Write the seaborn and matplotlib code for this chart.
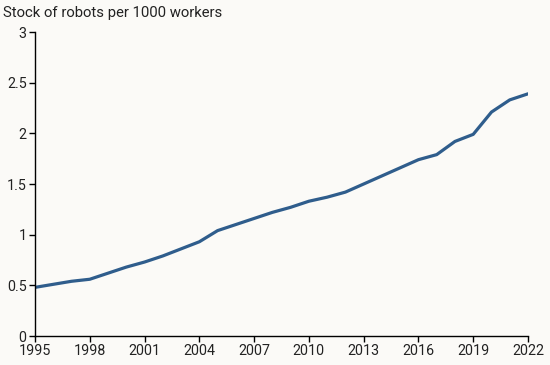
import matplotlib
matplotlib.use("Agg")
import matplotlib.pyplot as plt
import seaborn as sns
import pandas as pd

years = list(range(1995, 2023))
robots = [0.48, 0.51, 0.54, 0.56, 0.62, 0.68, 0.73, 0.79, 0.86, 0.93,
          1.04, 1.10, 1.16, 1.22, 1.27, 1.33, 1.37, 1.42, 1.50, 1.58,
          1.66, 1.74, 1.79, 1.92, 1.99, 2.21, 2.33, 2.39]
x_ticks = list(range(1995, 2023, 3))
y_ticks = [0, 0.5, 1, 1.5, 2, 2.5, 3]
y_tick_labels = ["0", "0.5", "1", "1.5", "2", "2.5", "3"]
title = "Stock of robots per 1000 workers"

df = pd.DataFrame({"year": years, "robots": robots})

sns.set_style("ticks")
plt.rcParams["font.family"] = ["Roboto", "DejaVu Sans"]
bg = "#FBFAF7"
fig = plt.figure(figsize=(5.5, 3.65), dpi=100, facecolor=bg)
ax = fig.add_axes([35/550, (365-336)/365, (528-35)/550, (336-32)/365])
ax.set_facecolor(bg)

sns.lineplot(data=df, x="year", y="robots", ax=ax, color="#2F5D8C", linewidth=2.3)

ax.set_xlim(1995, 2022)
ax.set_ylim(0, 3)
ax.set_xticks(x_ticks)
ax.set_xticklabels([str(t) for t in x_ticks])
ax.set_yticks(y_ticks)
ax.set_yticklabels(y_tick_labels)
ax.set_xlabel("")
ax.set_ylabel("")
for s in ["top", "right"]:
    ax.spines[s].set_visible(False)
for s in ["left", "bottom"]:
    ax.spines[s].set_color("black")
    ax.spines[s].set_linewidth(1.0)
ax.tick_params(axis="both", direction="out", length=4, width=1, color="black",
               labelsize=10.3, labelcolor="#222222", pad=2)
fig.text(3/550, 1 - 13/365, title, fontsize=10.7, color="#222222", va="center", ha="left")

fig.savefig("out.png", dpi=100, facecolor=bg)
